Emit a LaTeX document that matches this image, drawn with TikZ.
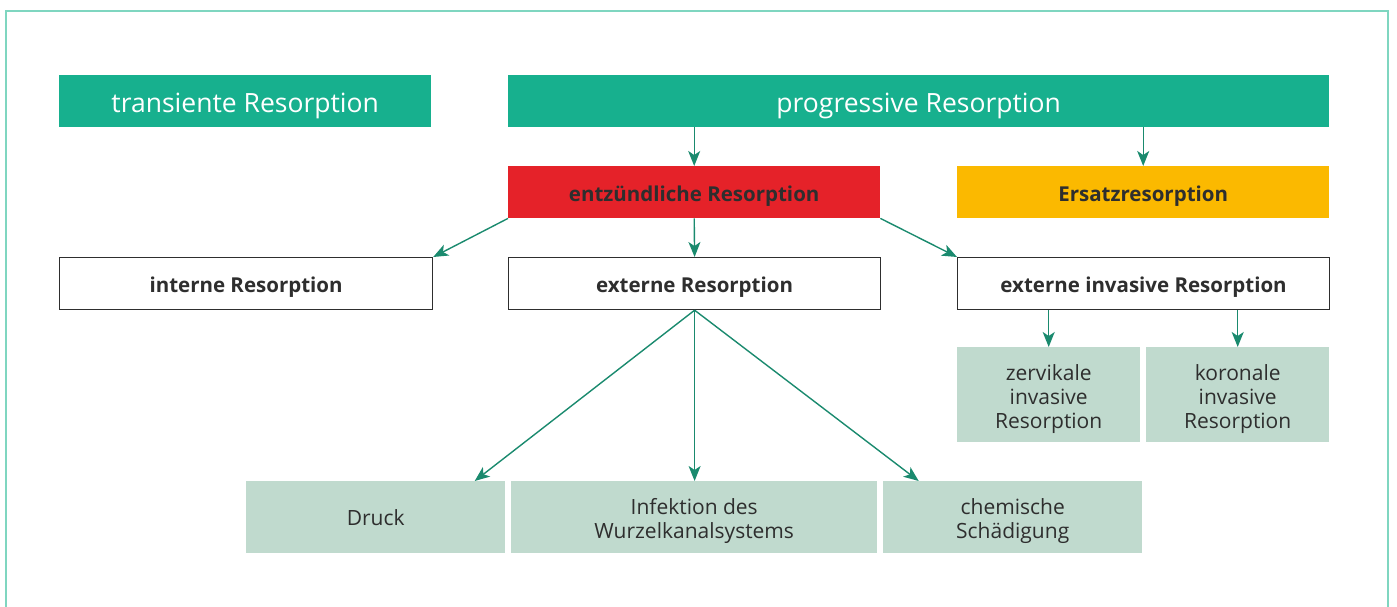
\documentclass[tikz,border=0pt]{standalone}
\usepackage{fontspec}
\setmainfont{Open Sans}
\usetikzlibrary{arrows.meta}
\definecolor{teal1}{HTML}{17B08E}
\definecolor{red1}{HTML}{E52229}
\definecolor{orange1}{HTML}{FBB900}
\definecolor{mint}{HTML}{C0DACE}
\definecolor{arrowc}{HTML}{1A8A6E}
\definecolor{framec}{HTML}{7FD6C0}
\definecolor{txt}{HTML}{2E2E2E}
\newcommand{\firststrut}{\rule{0pt}{24pt}}
\tikzset{
  txtdrop/.style={execute at begin node={\rule{0pt}{#1}}},
  box/.style={draw=none, inner sep=0pt, anchor=north west, text=txt},
  head/.style={box, fill=teal1, text=white, font=\fontsize{26.5}{30}\selectfont, txtdrop=28pt},
  boldbox/.style={box, font=\bfseries\fontsize{20.5}{24}\selectfont, txtdrop=23.5pt},
  wbox/.style={boldbox, draw=txt, line width=1.2pt, fill=white},
  leaf/.style={box, fill=mint, align=center, font=\fontsize{21}{24}\selectfont},
  arr/.style={draw=arrowc, line width=1.4pt, -{Stealth[length=15pt,width=12pt,inset=4pt]}},
}
\begin{document}
\begin{tikzpicture}[x=1pt,y=-1pt]
\useasboundingbox (0,0) rectangle (1397,607);
\draw[framec, line width=2pt] (6,607) -- (6,11) -- (1388,11) -- (1388,607);
% row 1
\node[head, minimum width=372pt, minimum height=52pt] (trans) at (59,75) {transiente Resorption};
\node[head, minimum width=821pt, minimum height=52pt] (prog) at (508,75) {progressive Resorption};
% row 2
\node[boldbox, fill=red1, minimum width=372pt, minimum height=52pt] (entz) at (508,166) {entzündliche Resorption};
\node[boldbox, fill=orange1, minimum width=372pt, minimum height=52pt] (ersatz) at (957,166) {Ersatzresorption};
% row 3
\node[wbox, minimum width=373pt, minimum height=52pt] (intern) at (59,257) {interne Resorption};
\node[wbox, minimum width=372pt, minimum height=52pt] (extern) at (508,257) {externe Resorption};
\node[wbox, minimum width=372pt, minimum height=52pt] (exinv) at (957,257) {externe invasive Resorption};
% row 4
\node[leaf, minimum width=183pt, minimum height=95pt] (zerv) at (957,347) {\firststrut zervikale\\invasive\\Resorption};
\node[leaf, minimum width=183pt, minimum height=95pt] (koro) at (1146,347) {\firststrut koronale\\invasive\\Resorption};
% row 5
\node[leaf, minimum width=259pt, minimum height=72pt] (druck) at (246,481) {Druck};
\node[leaf, minimum width=366pt, minimum height=72pt] (infekt) at (511,481) {\firststrut Infektion des\\Wurzelkanalsystems};
\node[leaf, minimum width=259pt, minimum height=72pt] (chem) at (883,481) {\firststrut chemische\\Schädigung};
% arrows
\draw[arr] (prog.south -| entz.north) -- (entz.north);
\draw[arr] (prog.south -| ersatz.north) -- (ersatz.north);
\draw[arr] (entz.south) -- (extern.north);
\draw[arr] (entz.south west) -- (intern.north east);
\draw[arr] (entz.south east) -- (exinv.north west);
\draw[arr] (exinv.south -| zerv.north) -- (zerv.north);
\draw[arr] (exinv.south -| koro.north) -- (koro.north);
\draw[arr] (extern.south) -- ([xshift=99pt]druck.north);
\draw[arr] (extern.south) -- (extern.south |- infekt.north);
\draw[arr] (extern.south) -- ([xshift=-94pt]chem.north);
\end{tikzpicture}
\end{document}
